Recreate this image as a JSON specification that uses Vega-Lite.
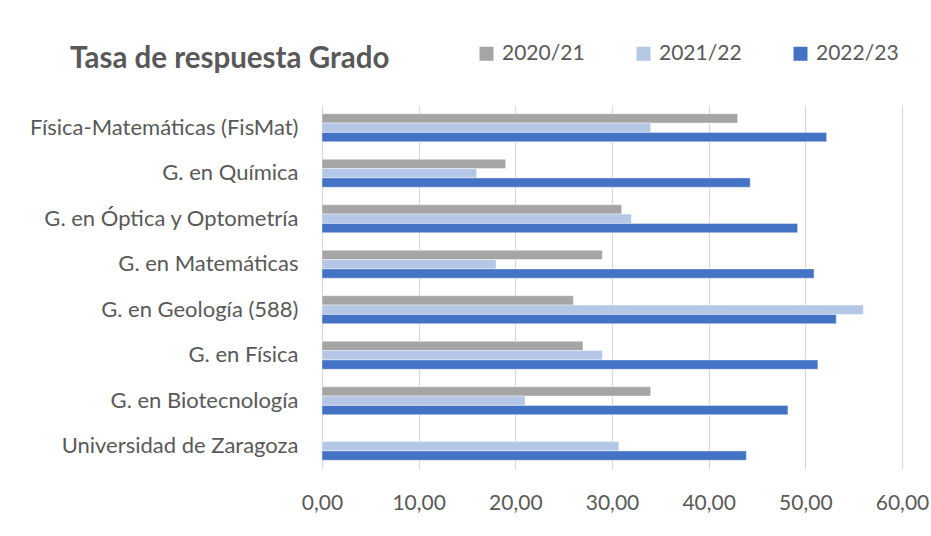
{
  "$schema": "https://vega.github.io/schema/vega-lite/v6.json",
  "width": 580,
  "height": 364,
  "autosize": {"type": "none"},
  "padding": {"left": 322, "top": 105, "right": 29, "bottom": 67},
  "background": "white",
  "title": {
    "text": "Tasa de respuesta Grado",
    "anchor": "start",
    "frame": "group",
    "orient": "top",
    "dx": -252,
    "dy": 94,
    "offset": 40,
    "baseline": "alphabetic",
    "font": "Lato",
    "fontSize": 29.5,
    "fontWeight": "bold",
    "color": "#595959"
  },
  "data": {
    "values": [
      {"programa": "Física-Matemáticas (FisMat)", "curso": "2020/21", "tasa": 43.0},
      {"programa": "Física-Matemáticas (FisMat)", "curso": "2021/22", "tasa": 34.0},
      {"programa": "Física-Matemáticas (FisMat)", "curso": "2022/23", "tasa": 52.2},
      {"programa": "G. en Química", "curso": "2020/21", "tasa": 19.0},
      {"programa": "G. en Química", "curso": "2021/22", "tasa": 16.0},
      {"programa": "G. en Química", "curso": "2022/23", "tasa": 44.3},
      {"programa": "G. en Óptica y Optometría", "curso": "2020/21", "tasa": 31.0},
      {"programa": "G. en Óptica y Optometría", "curso": "2021/22", "tasa": 32.0},
      {"programa": "G. en Óptica y Optometría", "curso": "2022/23", "tasa": 49.2},
      {"programa": "G. en Matemáticas", "curso": "2020/21", "tasa": 29.0},
      {"programa": "G. en Matemáticas", "curso": "2021/22", "tasa": 18.0},
      {"programa": "G. en Matemáticas", "curso": "2022/23", "tasa": 50.9},
      {"programa": "G. en Geología (588)", "curso": "2020/21", "tasa": 26.0},
      {"programa": "G. en Geología (588)", "curso": "2021/22", "tasa": 56.0},
      {"programa": "G. en Geología (588)", "curso": "2022/23", "tasa": 53.2},
      {"programa": "G. en Física", "curso": "2020/21", "tasa": 27.0},
      {"programa": "G. en Física", "curso": "2021/22", "tasa": 29.0},
      {"programa": "G. en Física", "curso": "2022/23", "tasa": 51.3},
      {"programa": "G. en Biotecnología", "curso": "2020/21", "tasa": 34.0},
      {"programa": "G. en Biotecnología", "curso": "2021/22", "tasa": 21.0},
      {"programa": "G. en Biotecnología", "curso": "2022/23", "tasa": 48.2},
      {"programa": "Universidad de Zaragoza", "curso": "2021/22", "tasa": 30.7},
      {"programa": "Universidad de Zaragoza", "curso": "2022/23", "tasa": 43.9}
    ]
  },
  "mark": {"type": "bar", "stroke": "white", "strokeWidth": 0.6, "strokeOpacity": 0.7},
  "encoding": {
    "y": {
      "field": "programa",
      "type": "nominal",
      "sort": [
        "Física-Matemáticas (FisMat)",
        "G. en Química",
        "G. en Óptica y Optometría",
        "G. en Matemáticas",
        "G. en Geología (588)",
        "G. en Física",
        "G. en Biotecnología",
        "Universidad de Zaragoza"
      ],
      "scale": {"paddingInner": 0.385, "paddingOuter": 0.1925},
      "axis": {
        "title": null,
        "domain": false,
        "ticks": false,
        "labelPadding": 24,
        "labelFont": "Lato",
        "labelFontSize": 22,
        "labelColor": "#595959",
        "labelLimit": 400
      }
    },
    "yOffset": {
      "field": "curso",
      "type": "nominal",
      "sort": ["2020/21", "2021/22", "2022/23"],
      "scale": {"paddingInner": 0, "paddingOuter": 0}
    },
    "x": {
      "field": "tasa",
      "type": "quantitative",
      "scale": {"domain": [0, 60], "nice": false},
      "axis": {
        "title": null,
        "values": [0, 10, 20, 30, 40, 50, 60],
        "labelExpr": "replace(format(datum.value, '.2f'), '.', ',')",
        "domain": false,
        "ticks": false,
        "grid": true,
        "gridColor": "#d9d9d9",
        "gridWidth": 1.2,
        "labelPadding": 23,
        "labelFont": "Lato",
        "labelFontSize": 21,
        "labelColor": "#595959",
        "labelFlush": false
      }
    },
    "color": {
      "field": "curso",
      "type": "nominal",
      "scale": {
        "domain": ["2020/21", "2021/22", "2022/23"],
        "range": ["#A5A5A5", "#B4C7E7", "#4472C4"]
      },
      "legend": {
        "title": null,
        "orient": "none",
        "direction": "horizontal",
        "legendX": 154,
        "legendY": -62,
        "padding": 0,
        "symbolType": "square",
        "symbolSize": 196,
        "symbolStrokeWidth": 0,
        "symbolOpacity": 1,
        "labelOffset": 5,
        "columnPadding": 48,
        "labelFont": "Lato",
        "labelFontSize": 21,
        "labelColor": "#595959"
      }
    }
  },
  "config": {
    "view": {"stroke": null}
  }
}
